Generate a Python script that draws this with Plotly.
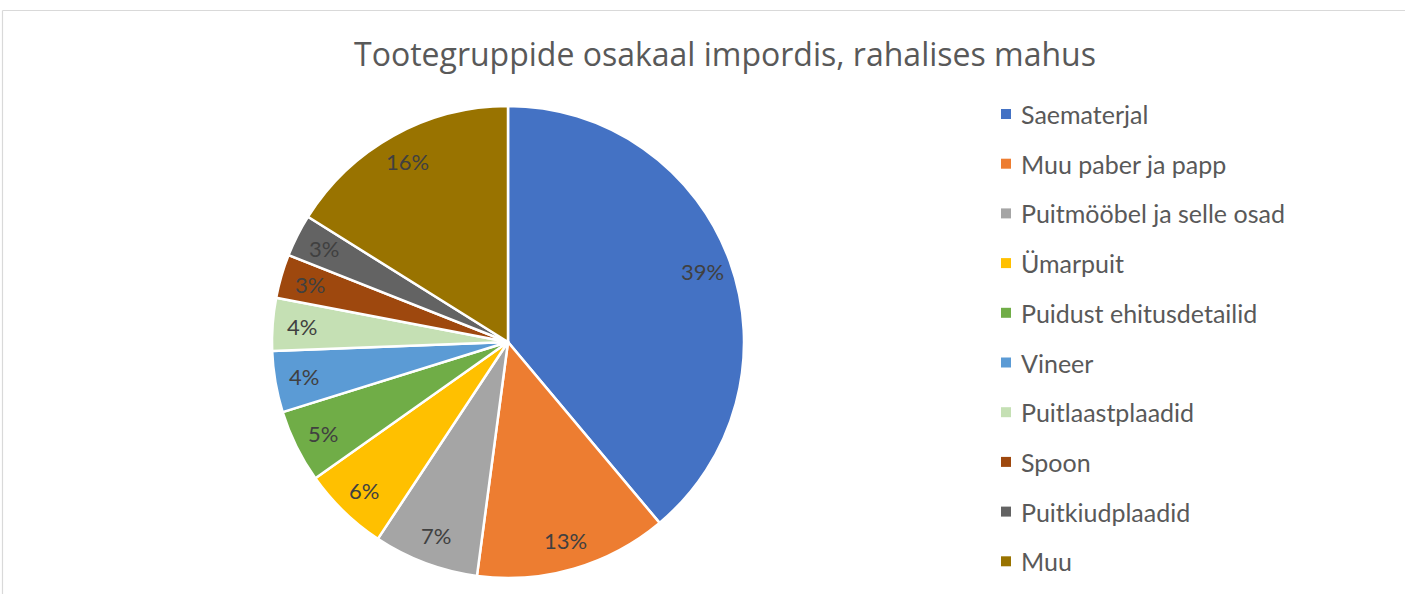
import math
import plotly.graph_objects as go

W, H = 1405, 594

categories = ["Saematerjal", "Muu paber ja papp", "Puitmööbel ja selle osad", "Ümarpuit",
              "Puidust ehitusdetailid", "Vineer", "Puitlaastplaadid", "Spoon",
              "Puitkiudplaadid", "Muu"]
shares = [38.9, 13.2, 7.2, 5.9, 5.0, 4.2, 3.6, 3.0, 2.9, 16.1]
colors = ["#4472C4", "#ED7D31", "#A5A5A5", "#FFC000", "#70AD47", "#5B9BD5",
          "#C5E0B4", "#9E480E", "#636363", "#997300"]
title_text = "Tootegruppide osakaal impordis, rahalises mahus"

FONT = "Lato"

# pie geometry (pixels)
cx, cy, R = 508, 342, 236

def px(x):
    return x / W

def py(y):
    return 1 - y / H

fig = go.Figure()
fig.add_trace(go.Pie(
    labels=categories,
    values=shares,
    sort=False,
    direction="clockwise",
    rotation=0,
    marker=dict(colors=colors, line=dict(color="white", width=2.5)),
    textinfo="none",
    showlegend=False,
    domain=dict(x=[px(cx - R), px(cx + R)], y=[py(cy + R), py(cy - R)]),
    hovertemplate="%{label}: %{percent:.0%}<extra></extra>",
))

annotations = []
shapes = []

# data labels, placed from cumulative shares
total = sum(shares)
cum = 0.0
for v in shares:
    mid = (cum + v / 2) / total * 2 * math.pi
    cum += v
    r = 0.875 * R
    x = cx + r * math.sin(mid)
    y = cy - r * math.cos(mid)
    annotations.append(dict(
        x=px(x), y=py(y), xref="paper", yref="paper",
        text=f"{round(v / total * 100):.0f}%", showarrow=False,
        xanchor="center", yanchor="middle",
        font=dict(family=FONT, size=22, color="#404040"),
    ))

# custom legend
row0, step = 114, 49.7
for i, (name, col) in enumerate(zip(categories, colors)):
    yc = row0 + i * step
    shapes.append(dict(
        type="rect", xref="paper", yref="paper",
        x0=px(1001), x1=px(1011), y0=py(yc + 5), y1=py(yc - 5),
        fillcolor=col, line=dict(width=0),
    ))
    annotations.append(dict(
        x=px(1019), y=py(yc), xref="paper", yref="paper",
        text=name, showarrow=False, xanchor="left", yanchor="middle",
        font=dict(family=FONT, size=25, color="#595959"),
    ))

# chart-area border
shapes.append(dict(type="line", xref="paper", yref="paper",
                   x0=px(2.5), x1=px(2.5), y0=0, y1=py(10.5),
                   line=dict(color="#D9D9D9", width=1.2)))
shapes.append(dict(type="line", xref="paper", yref="paper",
                   x0=px(2.5), x1=1, y0=py(10.5), y1=py(10.5),
                   line=dict(color="#D9D9D9", width=1.2)))

fig.update_layout(
    width=W, height=H,
    margin=dict(l=0, r=0, t=0, b=0),
    paper_bgcolor="white",
    plot_bgcolor="white",
    title=dict(text=title_text, x=px(725), xanchor="center",
               y=py(55), yanchor="middle",
               font=dict(family="Open Sans", size=32, color="#595959")),
    annotations=annotations,
    shapes=shapes,
)

fig.write_html("out.html",
               config={"displayModeBar": False},
               post_script="document.body.style.margin='0';document.body.style.overflow='hidden';")
